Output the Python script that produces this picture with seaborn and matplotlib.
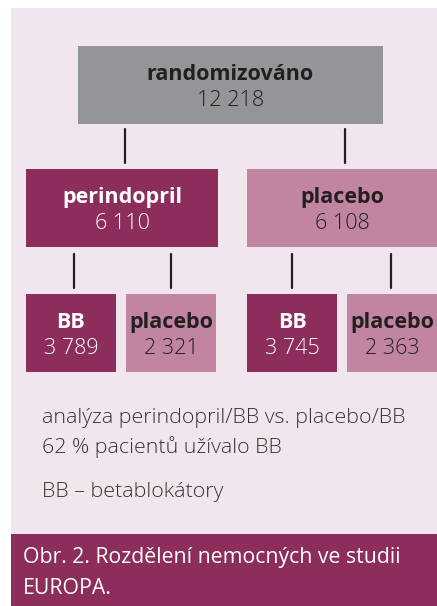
import matplotlib
matplotlib.use("Agg")
import matplotlib.pyplot as plt
from matplotlib.patches import Rectangle
import seaborn as sns

# ---- data ----
top_label = ["randomizováno"]
top_count = ["12 218"]
arm_labels = ["perindopril", "placebo"]
arm_counts = ["6 110", "6 108"]
sub_labels = ["BB", "placebo", "BB", "placebo"]
sub_counts = ["3 789", "2 321", "3 745", "2 363"]
notes = ["analýza perindopril/BB vs. placebo/BB", "62 % pacientů užívalo BB", "BB – betablokátory"]
caption = ["Obr. 2. Rozdělení nemocných ve studii", "EUROPA."]

# ---- style ----
sns.set_theme(style="white")
plt.rcParams["font.family"] = ["Open Sans", "DejaVu Sans"]

DARK = "#8c2d5c"
LIGHT = "#c185a1"
GRAY = "#939598"
BG = "#f2e6ee"
TXT = "#333333"

fig = plt.figure(figsize=(4.37, 6.06), dpi=100)
ax = fig.add_axes([0, 0, 1, 1])
ax.set_xlim(0, 437)
ax.set_ylim(606, 0)
ax.axis("off")

# background panel + caption band
ax.add_patch(Rectangle((11, 8), 426, 527, color=BG, lw=0))
ax.add_patch(Rectangle((11, 534), 426, 72, color=DARK, lw=0))

def box(x0, x1, y0, y1, color, label, count, tcolor, fs):
    ax.add_patch(Rectangle((x0, y0), x1 - x0, y1 - y0, color=color, lw=0))
    cx = (x0 + x1) / 2
    ax.text(cx, y0 + (y1 - y0) * 0.36, label, ha="center", va="center",
            fontsize=fs, fontweight="bold", color=tcolor)
    ax.text(cx, y0 + (y1 - y0) * 0.70, count, ha="center", va="center",
            fontsize=fs, fontweight="light", color=tcolor)

FS = 15.5
# top
box(78, 383, 46, 124, GRAY, top_label[0], top_count[0], "#231f20", FS)
# arms
arm_x = [(26, 218), (247, 437)]
arm_col = [DARK, LIGHT]
arm_txt = ["white", "#231f20"]
for (x0, x1), c, t, l, n in zip(arm_x, arm_col, arm_txt, arm_labels, arm_counts):
    box(x0, x1, 169, 247, c, l, n, t, FS)
# sub
sub_x = [(26, 116), (126, 216), (247, 337), (347, 437)]
sub_col = [DARK, LIGHT, DARK, LIGHT]
sub_txt = ["white", "#231f20", "white", "#231f20"]
for (x0, x1), c, t, l, n in zip(sub_x, sub_col, sub_txt, sub_labels, sub_counts):
    box(x0, x1, 294, 372, c, l, n, t, FS)

# connectors
for x in [125, 345]:
    ax.plot([x, x], [129, 163], color="#231f20", lw=1.6)
for x in [74, 171, 292, 391]:
    ax.plot([x, x], [254, 288], color="#231f20", lw=1.6)

# notes
for y, s in zip([418, 447, 492], notes):
    ax.text(42, y, s, ha="left", va="center", fontsize=15.4, fontweight="light", color=TXT)

# caption
for y, s in zip([558, 588], caption):
    ax.text(23, y, s, ha="left", va="center", fontsize=15.3, color="white")

fig.savefig("out.png", dpi=100)
